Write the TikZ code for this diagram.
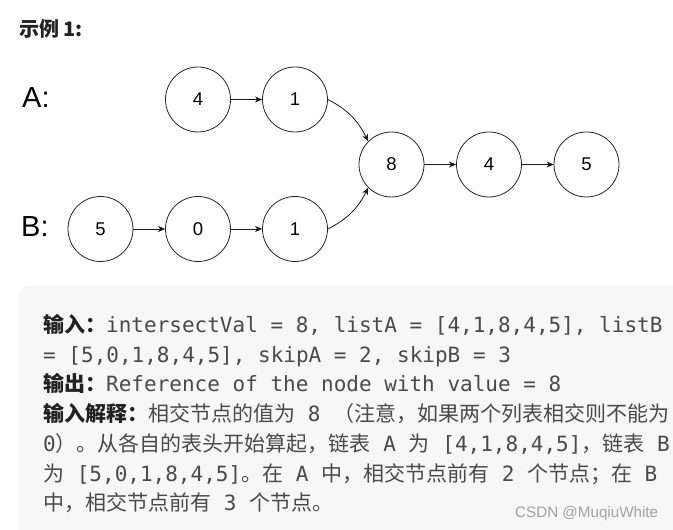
\documentclass[tikz,border=0pt]{standalone}
\usepackage{fontspec}
\setmainfont{Liberation Sans}
\setmonofont{DejaVu Sans Mono}
\newfontfamily\cjk{Noto Sans CJK SC}
\usetikzlibrary{arrows.meta}
\definecolor{panelbg}{HTML}{F7F7F8}
\definecolor{txt}{HTML}{4A4A4A}
\definecolor{lbl}{HTML}{222222}
\definecolor{wm}{HTML}{A3A3A3}
\newcommand{\zh}[1]{{\cjk #1}}
\newcommand{\lb}[1]{{\cjk\bfseries\color{lbl}#1}}
\begin{document}
\begin{tikzpicture}[x=1pt,y=1pt,
  lnode/.style={circle,draw=black!85,line width=0.8pt,minimum size=65pt,inner sep=0pt,font=\fontsize{18.5}{18.5}\selectfont},
  arr/.style={-{Stealth[length=7pt,width=6pt,inset=2pt]},line width=0.8pt,draw=black!90},
  txtline/.style={anchor=base west,inner sep=0pt,text=txt,font=\ttfamily\fontsize{21}{21}\selectfont},
  biglbl/.style={anchor=base west,inner sep=0pt,font=\fontsize{29}{29}\selectfont}
]
\useasboundingbox (0,0) rectangle (673,530);
\fill[panelbg,rounded corners=10pt] (19,-30) rectangle (700,244.3);

\node[anchor=base west,inner sep=0pt,font=\cjk\bfseries\fontsize{20}{20}\selectfont,text=lbl] (title) at (19,493) {示例 1:};

\node[biglbl] (la) at (22,422) {A:};
\node[biglbl] (lbB) at (21,293) {B:};

\node[lnode] (a4) at (198,430.5) {4};
\node[lnode] (a1) at (295,430.5) {1};
\node[lnode] (c8) at (391.5,365.5) {8};
\node[lnode] (c4) at (489,365.5) {4};
\node[lnode] (c5) at (586.5,365.5) {5};
\node[lnode] (b5) at (100.5,301) {5};
\node[lnode] (b0) at (198,301) {0};
\node[lnode] (b1) at (295,301) {1};

\draw[arr] (a4.east) -- (a1.west);
\draw[arr] (c8.east) -- (c4.west);
\draw[arr] (c4.east) -- (c5.west);
\draw[arr] (b5.east) -- (b0.west);
\draw[arr] (b0.east) -- (b1.west);
\draw[arr] (a1.east) to[out=-27,in=117] (c8.135);
\draw[arr] (b1.east) to[out=27,in=-117] (c8.225);

\node[txtline] (l1) at (43,197) {\lb{输入：}intersectVal = 8, listA = [4,1,8,4,5], listB};
\node[txtline] (l2) at (43,167) {= [5,0,1,8,4,5], skipA = 2, skipB = 3};
\node[txtline] (l3) at (43,138) {\lb{输出：}Reference of the node with value = 8};
\node[txtline] (l4) at (43,108) {\lb{输入解释：}\zh{相交节点的值为} 8 \zh{（注意，如果两个列表相交则不能为}};
\node[txtline] (l5) at (43,78) {0\zh{）。从各自的表头开始算起，链表} A \zh{为} [4,1,8,4,5]\zh{，链表} B};
\node[txtline] (l6) at (43,48) {\zh{为} [5,0,1,8,4,5]\zh{。在} A \zh{中，相交节点前有} 2 \zh{个节点；在} B};
\node[txtline] (l7) at (43,19) {\zh{中，相交节点前有} 3 \zh{个节点。}};

\node[anchor=base west,inner sep=0pt,text=wm,font=\fontsize{15.2}{15.2}\selectfont] (wmk) at (515,12) {CSDN @MuqiuWhite};
\end{tikzpicture}
\end{document}
